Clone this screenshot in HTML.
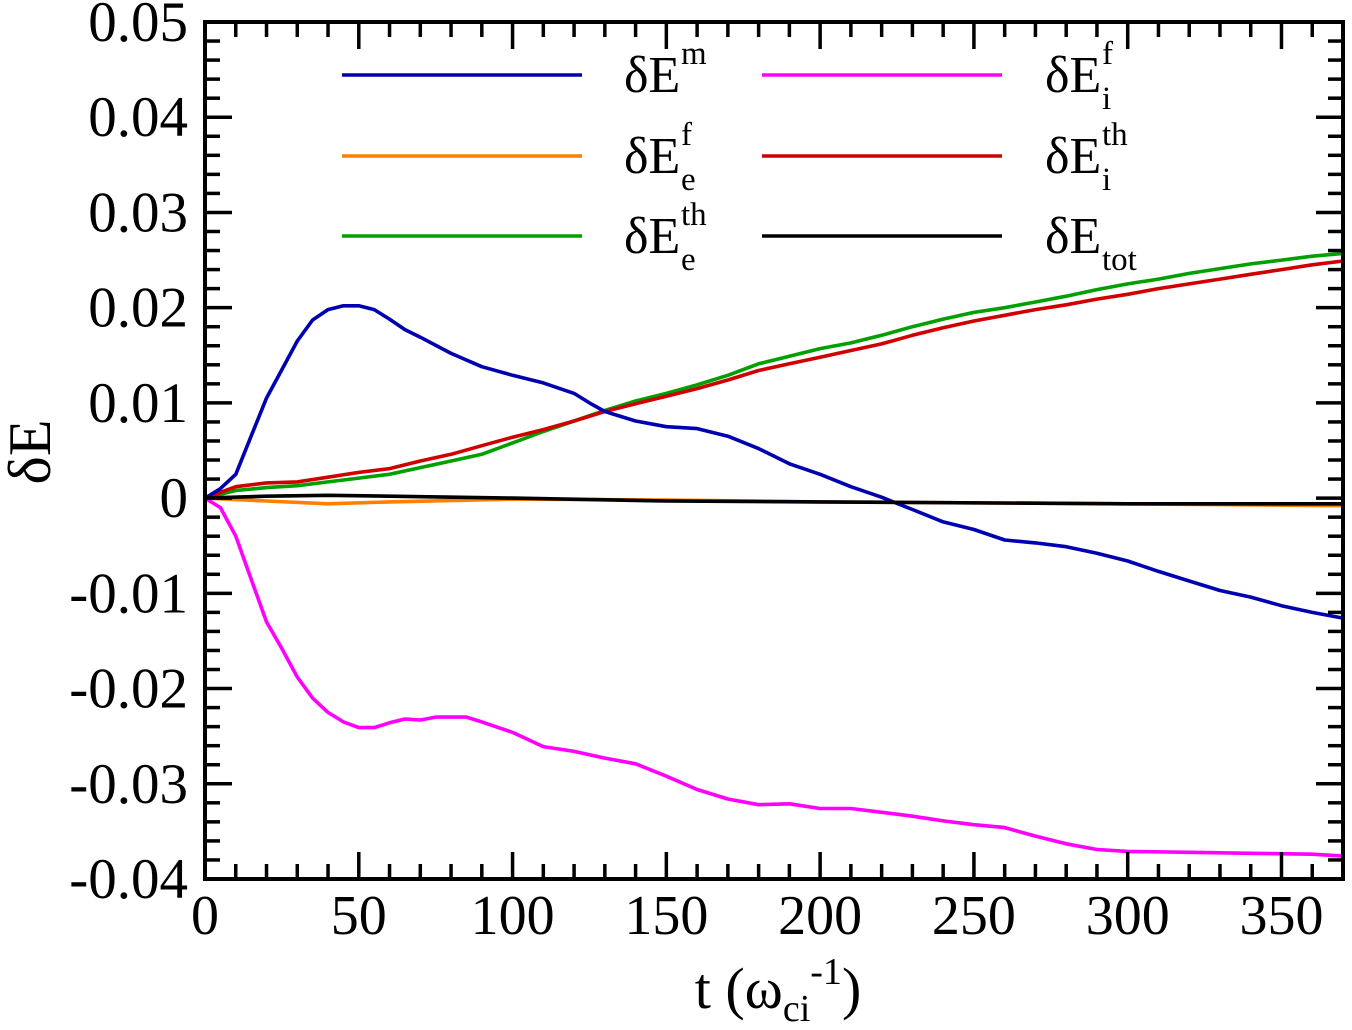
<!DOCTYPE html>
<html><head><meta charset="utf-8"><style>
body{margin:0;background:#fff}
svg{display:block}
text{font-family:"Liberation Serif",serif;fill:#000}
</style></head><body>
<svg id="chart" width="1352" height="1030" viewBox="0 0 1352 1030" xmlns="http://www.w3.org/2000/svg">
<g id="series"></g>
<g id="axes"></g>
<g id="legend"></g>
<text transform="translate(50,452) rotate(-90)" text-anchor="middle" font-size="60">δE</text>
<text x="778" y="1008" text-anchor="middle" font-size="58">t (ω<tspan font-size="38" dy="13">ci</tspan><tspan font-size="38" dy="-37">-1</tspan><tspan font-size="58" dy="24">)</tspan></text>
</svg>
<script>
const xTickLabels=["0","50","100","150","200","250","300","350"];
const yTickLabels=["-0.04","-0.03","-0.02","-0.01","0","0.01","0.02","0.03","0.04","0.05"];
const xTickValues=[0,50,100,150,200,250,300,350];
const yTickValues=[-0.04,-0.03,-0.02,-0.01,0,0.01,0.02,0.03,0.04,0.05];
const tMag=[0,5,10,15,20,25,30,35,40,45,50,55,60,65,70,80,90,100,110,120,125,130,140,150,160,170,180,190,200,210,220,230,240,250,260,270,280,290,300,310,320,330,340,350,360,370];
const vMag=[0,0.001,0.0025,0.0065,0.0105,0.0135,0.0165,0.0187,0.0198,0.0202,0.0202,0.0198,0.0188,0.0177,0.0169,0.0152,0.0138,0.0129,0.0121,0.0110,0.0100,0.0091,0.0081,0.0075,0.0073,0.0065,0.0052,0.0036,0.0025,0.0012,0.0001,-0.0012,-0.0025,-0.0033,-0.0044,-0.0047,-0.0051,-0.0058,-0.0066,-0.0077,-0.0087,-0.0097,-0.0104,-0.0113,-0.0120,-0.0126];
const tIon=[0,5,10,15,20,25,30,35,40,45,50,55,60,65,70,75,85,90,100,110,120,130,140,150,160,170,180,190,200,210,220,230,240,250,260,270,280,290,300,320,340,360,370];
const vIonF=[0,-0.001,-0.004,-0.0085,-0.013,-0.0158,-0.0188,-0.021,-0.0225,-0.0235,-0.0241,-0.0241,-0.0236,-0.0232,-0.0233,-0.023,-0.023,-0.0235,-0.0246,-0.0261,-0.0266,-0.0273,-0.0279,-0.0292,-0.0306,-0.0316,-0.0322,-0.0321,-0.0326,-0.0326,-0.033,-0.0334,-0.0339,-0.0343,-0.0346,-0.0355,-0.0363,-0.0369,-0.0371,-0.0372,-0.0373,-0.0374,-0.0376];
const tTh=[0,10,20,30,40,50,60,70,80,90,100,110,120,130,140,150,160,170,180,190,200,210,220,230,240,250,260,270,280,290,300,310,320,330,340,350,360,370];
const vEth=[0,0.0008,0.0011,0.0013,0.0017,0.0021,0.0025,0.0032,0.0039,0.0046,0.0058,0.0070,0.0081,0.0092,0.0102,0.0110,0.0119,0.0129,0.0141,0.0149,0.0157,0.0163,0.0171,0.0180,0.0188,0.0195,0.0200,0.0206,0.0212,0.0219,0.0225,0.0230,0.0236,0.0241,0.0246,0.0250,0.0254,0.0257];
const vIth=[0,0.0012,0.0016,0.0017,0.0022,0.0027,0.0031,0.0039,0.0046,0.0055,0.0064,0.0072,0.0081,0.0091,0.0099,0.0107,0.0115,0.0124,0.0134,0.0141,0.0148,0.0155,0.0162,0.0171,0.0179,0.0186,0.0192,0.0198,0.0203,0.0209,0.0214,0.0220,0.0225,0.0230,0.0235,0.0240,0.0245,0.0249];
const tSmall=[0,20,40,60,100,150,200,300,370];
const vEf=[0,-0.0003,-0.0006,-0.0004,-0.0001,-0.0002,-0.0004,-0.0006,-0.0008];
const vTot=[0,0.0002,0.0003,0.0002,0,-0.0003,-0.0004,-0.0006,-0.0006];

const L=205,R=1343,T=22,B=879,X0=0,X1=370,Y0=-0.04,Y1=0.05;
const sx=v=>L+(v-X0)/(X1-X0)*(R-L);
const sy=v=>B-(v-Y0)/(Y1-Y0)*(B-T);
const NS="http://www.w3.org/2000/svg";
function mk(tag,parent,attrs){const e=document.createElementNS(NS,tag);for(const k in attrs)e.setAttribute(k,attrs[k]);parent.appendChild(e);return e;}
const gS=document.getElementById('series'),gA=document.getElementById('axes'),gL=document.getElementById('legend');

const series=[
 {name:'series-ion-fluid',t:tIon,v:vIonF,c:'#ff00ff'},
 {name:'series-electron-fluid',t:tSmall,v:vEf,c:'#ff8000'},
 {name:'series-electron-thermal',t:tTh,v:vEth,c:'#00a000'},
 {name:'series-ion-thermal',t:tTh,v:vIth,c:'#d00000'},
 {name:'series-magnetic',t:tMag,v:vMag,c:'#0000b0'},
 {name:'series-total',t:tSmall,v:vTot,c:'#000000'}];
series.forEach(s=>{
 const p=mk('polyline',gS,{points:s.t.map((t,i)=>sx(t).toFixed(1)+','+sy(s.v[i]).toFixed(1)).join(' '),fill:'none',stroke:s.c,'stroke-width':3.6,'stroke-linejoin':'round'});
 
 
});

const fr=mk('rect',gA,{x:L,y:T,width:R-L,height:B-T,fill:'none',stroke:'#000','stroke-width':4});


for(let v=0;v<=X1;v+=10){
 const maj=v%50===0,len=maj?27:15;
 [[B,B-len],[T,T+len]].forEach(([a,b])=>{const l=mk('line',gA,{x1:sx(v),x2:sx(v),y1:a,y2:b,stroke:'#000','stroke-width':3.5});
 
 });
}
for(let k=-20;k<=25;k++){
 const v=k*0.002,maj=k%5===0,len=maj?27:15;
 [[L,L+len],[R,R-len]].forEach(([a,b])=>{const l=mk('line',gA,{x1:a,x2:b,y1:sy(v),y2:sy(v),stroke:'#000','stroke-width':3.5});
 
 });
}
xTickValues.forEach((v,i)=>{const t=mk('text',gA,{x:sx(v),y:934,'text-anchor':'middle','font-size':56});t.textContent=xTickLabels[i];
 
 });
yTickValues.forEach((v,i)=>{const t=mk('text',gA,{x:188,y:sy(v)+19,'text-anchor':'end','font-size':57});t.textContent=yTickLabels[i];
 
 });

const leg=[
 {c:'#0000b0',x:342,y:75,tx:624,sup:'m',sub:''},
 {c:'#ff8000',x:342,y:156,tx:624,sup:'f',sub:'e'},
 {c:'#00a000',x:342,y:236,tx:624,sup:'th',sub:'e'},
 {c:'#ff00ff',x:762,y:75,tx:1045,sup:'f',sub:'i'},
 {c:'#d00000',x:762,y:156,tx:1045,sup:'th',sub:'i'},
 {c:'#000000',x:762,y:236,tx:1045,sup:'',sub:'tot'}];
leg.forEach(e=>{
 const g=mk('g',gL,{});
 
 
 mk('line',g,{x1:e.x,x2:e.x+240,y1:e.y,y2:e.y,stroke:e.c,'stroke-width':3.6});
 const t=mk('text',g,{x:e.tx,y:e.y+17,'font-size':52});
 t.appendChild(document.createTextNode('δE'));
 const xe=e.tx+57;
 if(e.sup){const s=mk('tspan',t,{x:xe,y:e.y-11,'font-size':33});s.textContent=e.sup;}
 if(e.sub){const s=mk('tspan',t,{x:xe,y:e.y+34,'font-size':33});s.textContent=e.sub;}
});
</script>
</body></html>
